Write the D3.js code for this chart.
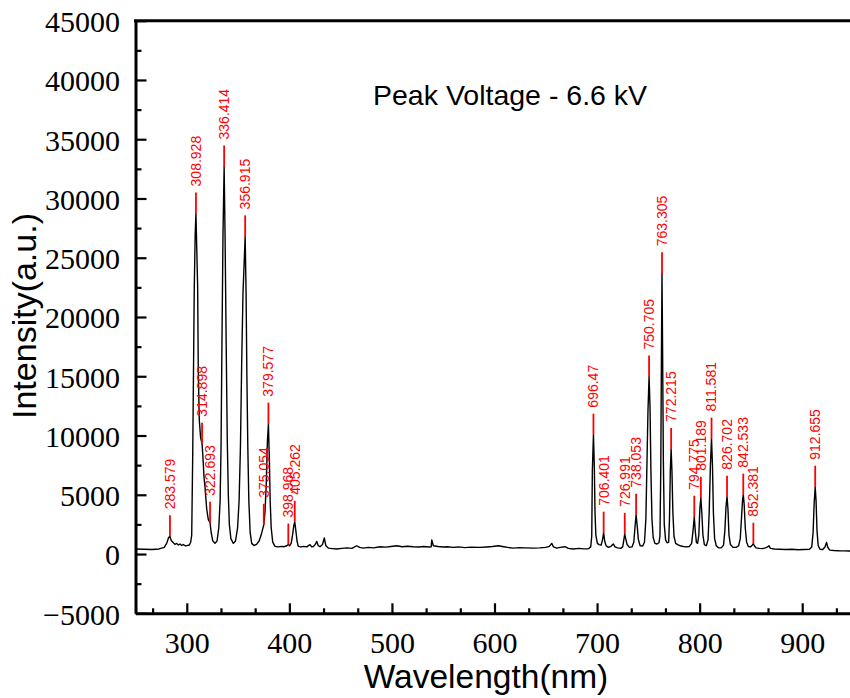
<!DOCTYPE html>
<html>
<head>
<meta charset="utf-8">
<script src="https://cdn.jsdelivr.net/npm/d3@7"></script>
<style>
  body { margin: 0; background: #fff; }
  svg { display: block; }
</style>
</head>
<body>
<svg id="chart" width="850" height="698"></svg>
<script>
// spectrum: [wavelength nm, intensity a.u.]
const spectrum = [
  [250, 420], [258, 400], [266, 380], [273, 430], [278, 560], [280.4, 900], [282.3, 1400], [283.58, 1500],
  [284.8, 1150], [286.9, 950], [288.5, 820], [290.2, 900], [291.8, 760], [293.4, 850], [295, 720], [296.6, 800],
  [298.5, 700], [300.5, 720], [302.5, 760], [303.8, 1000], [304.8, 1600], [305.8, 8500], [306.6, 16000],
  [307.3, 22500], [308.2, 27000], [308.928, 28740], [309.8, 25500], [310.6, 22500], [311.2, 15500], [312.2, 11300],
  [313.5, 9800], [314.898, 9316], [315.6, 8400], [316.8, 6500], [317.8, 5600], [319.4, 3800], [321, 2900],
  [322.693, 2640], [323.8, 1800], [325.3, 1120], [327.5, 900], [329.5, 1100], [331.2, 2200], [332.5, 4500],
  [333.4, 9000], [334.2, 17000], [335.3, 27000], [336.414, 32700], [337.3, 27000], [338.5, 17000], [339.5, 9500],
  [340.5, 5000], [341.5, 2500], [343, 1300], [345.4, 900], [347.5, 1100], [349.5, 2200], [351, 4500], [352.3, 9000],
  [353.5, 16000], [354.8, 22000], [356.915, 26800], [357.8, 22000], [358.6, 15000], [359.5, 9000], [360.5, 4500],
  [361.8, 1800], [363.3, 900], [365.5, 720], [368, 820], [370.5, 1100], [372.5, 1600], [374, 2100], [375.054, 2470],
  [376.3, 3600], [377.5, 6000], [378.6, 9500], [379.577, 11000], [380.5, 8000], [381.3, 4500], [382.3, 2200],
  [383.8, 1000], [386, 650], [389, 600], [392, 650], [395, 620], [397.5, 700], [398.968, 800], [400.3, 700],
  [401.8, 900], [403.3, 1700], [404.3, 2400], [405.262, 2720], [406.3, 2000], [407.5, 1100], [408.7, 650],
  [411, 600], [414, 650], [417, 600], [420.1, 790], [421.8, 600], [423.4, 640], [425.2, 800], [426.7, 1070],
  [428.2, 700], [429.9, 620], [432.3, 800], [434.1, 1350], [435.6, 700], [438, 500], [442, 460], [446.2, 420],
  [451, 480], [456, 520], [461, 480], [465.7, 700], [468.5, 560], [472.1, 500], [477, 560], [482, 520],
  [488.4, 620], [494, 580], [499, 640], [504.7, 700], [510, 620], [515, 660], [520.8, 620], [526, 600],
  [531, 640], [536, 600], [538.3, 620], [538.8, 1180], [540.4, 700], [545, 640], [550, 600], [554, 620],
  [559.8, 560], [565, 600], [571, 540], [577, 580], [585.9, 560], [592, 600], [598, 640], [603.7, 700],
  [609, 620], [613, 560], [618.3, 500], [624, 540], [630, 520], [637.8, 500], [644, 520], [650, 560],
  [653.5, 650], [655.8, 900], [657.5, 600], [660.6, 500], [664, 560], [668.7, 620], [672, 480], [676.8, 420],
  [682, 480], [687, 440], [691.5, 450], [693.8, 600], [694.8, 1500], [695.4, 7000], [696.47, 10075], [697.3, 7500],
  [698, 3500], [698.8, 1600], [700.3, 900], [702, 800], [704, 760], [705.3, 1200], [706.401, 1800], [707.4, 1100],
  [708.8, 700], [711, 560], [713.5, 650], [715.8, 850], [717.5, 600], [720, 520], [723, 480], [725, 600],
  [726.1, 1200], [726.991, 1700], [727.9, 1300], [729.3, 800], [731.5, 560], [734, 600], [735.8, 1000],
  [736.9, 2200], [738.053, 3320], [739.1, 2400], [740.3, 1200], [742, 700], [744.5, 680], [746.2, 1000],
  [747.6, 3000], [748.6, 7500], [749.6, 12000], [750.705, 14975], [751.6, 12500], [752.5, 7000], [753.5, 3000],
  [754.7, 1400], [756.4, 900], [758.5, 850], [760.3, 950], [761.3, 1500], [762.1, 7000], [762.7, 16000],
  [763.305, 23690], [763.9, 17000], [764.6, 8000], [765.5, 2500], [766.8, 1200], [768.3, 950], [769.8, 1000],
  [770.6, 3000], [771.4, 7000], [772.215, 8870], [773, 7000], [773.9, 3500], [775, 1500], [776.6, 900],
  [778.5, 800], [781, 700], [784, 640], [787, 600], [790, 640], [792.2, 900], [793.6, 2000], [794.775, 3150],
  [795.7, 2000], [796.8, 1000], [798, 900], [799.2, 1600], [800.2, 3800], [801.189, 4750], [802.1, 3500],
  [803.2, 1600], [804.6, 800], [806.5, 700], [808.2, 1200], [809.3, 3500], [810.5, 7500], [811.581, 9740],
  [812.5, 7500], [813.4, 3500], [814.6, 1300], [816.2, 700], [818.5, 520], [821, 520], [823.3, 750],
  [824.6, 2000], [825.7, 4000], [826.702, 4840], [827.6, 3800], [828.6, 1600], [830, 800], [832.5, 560],
  [835.5, 560], [838, 700], [839.6, 1300], [840.9, 3200], [841.8, 4500], [842.533, 5010], [843.4, 4200],
  [844.5, 2200], [845.8, 1000], [847.5, 640], [849.5, 600], [851.2, 750], [852.381, 870], [853.3, 700],
  [855, 520], [858, 480], [861, 460], [864, 520], [866.3, 600], [867.6, 700], [869, 480], [873, 420],
  [878, 400], [884, 380], [890, 400], [896, 360], [902, 380], [907, 400], [909.3, 600], [910.6, 1800],
  [911.6, 4200], [912.655, 5680], [913.5, 4500], [914.4, 2000], [915.6, 700], [917.5, 400], [920, 380],
  [922.2, 600], [923.7, 980], [925, 550], [927, 330], [931, 300], [936, 280], [941, 270], [946, 260], [950, 260]
]

// labelled peaks
const peakLabels = ['283.579', '308.928', '314.898', '322.693', '336.414', '356.915', '375.054', '379.577',
  '398.968', '405.262', '696.47', '706.401', '726.991', '738.053', '750.705', '763.305', '772.215',
  '794.775', '801.189', '811.581', '826.702', '842.533', '852.381', '912.655']
const peakValues = [1500, 28740, 9316, 2640, 32700, 26800, 2470, 11000,
  800, 2720, 10075, 1800, 1700, 3320, 14975, 23690, 8870,
  3150, 4750, 9740, 4840, 5010, 870, 5680]

const xTicks = [300, 400, 500, 600, 700, 800, 900]
const yTicks = [-5000, 0, 5000, 10000, 15000, 20000, 25000, 30000, 35000, 40000, 45000]

const title = 'Peak Voltage - 6.6 kV'

const plotLeft = 135.5, plotRight = 853.5, plotTop = 20.7, plotBottom = 613.3

const xScale = d3.scaleLinear().domain([250, 950]).range([plotLeft, plotRight])
const yScale = d3.scaleLinear().domain([-5000, 45000]).range([plotBottom, plotTop])

const svg = d3.select('#chart')
svg.append('rect').attr('width', 850).attr('height', 698).attr('fill', '#fff')

svg.append('clipPath').attr('id', 'plotClip')
    .append('rect')
    .attr('x', plotLeft).attr('y', plotTop)
    .attr('width', plotRight - plotLeft).attr('height', plotBottom - plotTop)

// spectrum
const line = d3.line()
    .x(d => xScale(d[0]))
    .y(d => yScale(d[1]))

svg.append('path')
    .datum(spectrum)
    .attr('clip-path', 'url(#plotClip)')
    .attr('d', line)
    .attr('fill', 'none')
    .attr('stroke', '#000')
    .attr('stroke-width', 1.4)
    .attr('stroke-linejoin', 'round')

// peak markers and labels
const peaks = peakLabels.map((t, i) => ({ label: t, wl: +t, value: peakValues[i] }))
const markLen = 21

const pg = svg.append('g')
pg.selectAll('line')
    .data(peaks)
    .enter()
    .append('line')
    .attr('x1', d => xScale(d.wl))
    .attr('x2', d => xScale(d.wl))
    .attr('y1', d => yScale(d.value))
    .attr('y2', d => yScale(d.value) - markLen)
    .attr('stroke', '#f00')
    .attr('stroke-width', 1.8)

pg.selectAll('text')
    .data(peaks)
    .enter()
    .append('text')
    .attr('transform', d => 'translate(' + xScale(d.wl) + ',' + (yScale(d.value) - markLen - 6) + ') rotate(-90)')
    .attr('dy', '0.35em')
    .attr('fill', '#f00')
    .style('font-family', '"Liberation Sans", Arial, sans-serif')
    .style('font-size', '14px')
    .text(d => d.label)

// axes
const serif = '"Liberation Serif", "Times New Roman", serif'

const xMinorTicks = d3.range(250 + 50 / 3, 950, 100 / 3).filter(v => Math.abs(v - Math.round(v / 100) * 100) > 1)

const xAxis = d3.axisBottom(xScale).tickValues(xTicks).tickSize(-10).tickSizeOuter(0).tickPadding(18.7)
const xMinor = d3.axisBottom(xScale).tickValues(xMinorTicks).tickSize(-5).tickSizeOuter(0).tickFormat('')

const yAxis = d3.axisLeft(yScale).tickValues(yTicks).tickSize(-11).tickSizeOuter(0).tickPadding(15.5)
    .tickFormat(d => d < 0 ? '\u2212' + Math.abs(d) : d)
const yMinor = d3.axisLeft(yScale).tickValues(d3.range(-2500, 45000, 5000)).tickSize(-6).tickSizeOuter(0).tickFormat('')

const gx = svg.append('g').attr('transform', 'translate(0,' + plotBottom + ')').call(xAxis)
svg.append('g').attr('transform', 'translate(0,' + plotBottom + ')').call(xMinor)
    .call(g => g.select('.domain').remove())
const gy = svg.append('g').attr('transform', 'translate(' + plotLeft + ',0)').call(yAxis)
svg.append('g').attr('transform', 'translate(' + plotLeft + ',0)').call(yMinor)
    .call(g => g.select('.domain').remove())

svg.selectAll('.domain').attr('stroke-width', 3).attr('stroke', '#000')
svg.selectAll('.tick line').attr('stroke-width', 2.2).attr('stroke', '#000')

gx.selectAll('text').style('font-family', serif).style('font-size', '30px').attr('fill', '#000')
gy.selectAll('text').style('font-family', serif).style('font-size', '30px').attr('fill', '#000').attr('dy', '0.36em')

// top frame
svg.append('line')
    .attr('x1', plotLeft - 1.5).attr('x2', plotRight)
    .attr('y1', plotTop).attr('y2', plotTop)
    .attr('stroke', '#000').attr('stroke-width', 3)

// titles
const sans = '"Liberation Sans", Arial, sans-serif'

svg.append('text')
    .attr('x', 486).attr('y', 688)
    .attr('text-anchor', 'middle')
    .style('font-family', sans).style('font-size', '33.5px')
    .text('Wavelength(nm)')

svg.append('text')
    .attr('transform', 'translate(36,316) rotate(-90)')
    .attr('text-anchor', 'middle')
    .style('font-family', sans).style('font-size', '34px')
    .text('Intensity(a.u.)')

svg.append('text')
    .attr('x', 373).attr('y', 105)
    .style('font-family', sans).style('font-size', '28.5px')
    .text(title)
</script>
</body>
</html>
